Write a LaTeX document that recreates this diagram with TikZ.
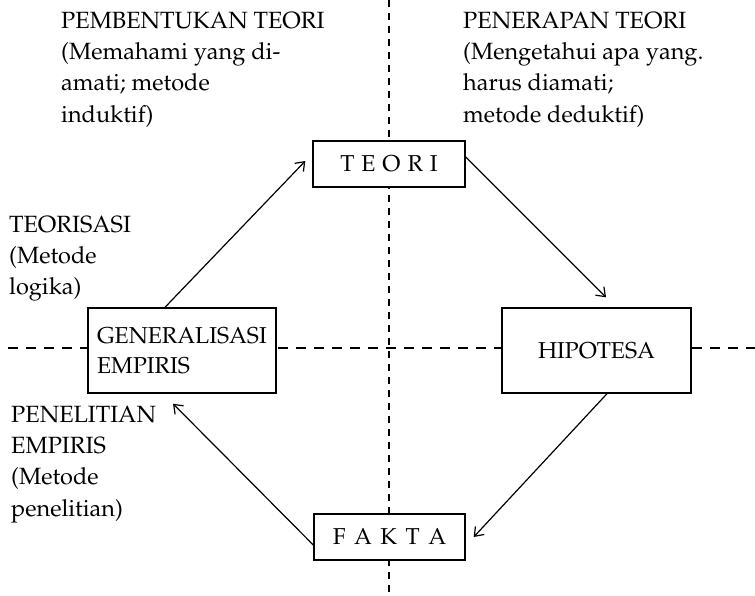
\documentclass[tikz,border=0pt]{standalone}
\usepackage[T1]{fontenc}
\usepackage{mathpazo}
\usetikzlibrary{arrows.meta}
\begin{document}
\begin{tikzpicture}[x=1pt,y=-1pt,
  box/.style={draw=black,line width=1.4pt,fill=white,inner sep=0pt,align=left,font=\fontsize{23}{30}\selectfont},
  lbl/.style={anchor=north west,inner sep=0pt,align=left,font=\fontsize{23.5}{31.3}\selectfont},
  arr/.style={line width=1.2pt,-{Straight Barb[length=8pt,width=12pt,line width=1.2pt]}},
  hdash/.style={line width=1.1pt,dash pattern=on 10pt off 8pt},
  vdash/.style={line width=1.1pt,dash pattern=on 7pt off 6pt}]
\useasboundingbox (0,0) rectangle (755,596);
% dashed axes
\coordinate (hl) at (8,348);
\coordinate (hr) at (755,348);
\coordinate (vt) at (389,0);
\coordinate (vb) at (389,596);
\draw[hdash] (hl) -- (hr);
\draw[vdash] (vt) -- (vb);
% boxes
\node[box,minimum width=152pt,minimum height=46pt] (teori) at (389,164) {T\hspace{7pt}E\hspace{7pt}O\hspace{7pt}R\hspace{7pt}I};
\node[box,minimum width=188pt,minimum height=85pt] (gen) at (182,350.5) {GENERALISASI\\EMPIRIS};
\node[box,minimum width=189pt,minimum height=85pt] (hipo) at (596.5,350.5) {HIPOTESA};
\node[box,minimum width=151pt,minimum height=46pt] (fakta) at (389.5,537) {F\hspace{8.5pt}A\hspace{8.5pt}K\hspace{8.5pt}T\hspace{8.5pt}A};
% arrows
\draw[arr] ([xshift=-17pt]gen.north) -- ([xshift=-7pt,yshift=3pt]teori.west);
\draw[arr] ([yshift=7pt]teori.east) -- ([xshift=9.5pt,yshift=10pt]hipo.north);
\draw[arr] ([xshift=10.5pt]hipo.south) -- ([xshift=8pt]fakta.east);
\draw[arr] ([yshift=-8pt]fakta.west) -- ([xshift=-9pt,yshift=-10pt]gen.south);
% labels
\node[lbl] (pt) at (61,11.8) {PEMBENTUKAN TEORI\\(Memahami yang di-\\amati; metode\\induktif)};
\node[lbl] (pp) at (463,11.8) {PENERAPAN TEORI\\(Mengetahui apa yang.\\harus diamati;\\metode deduktif)};
\node[lbl] (ts) at (9,215.8) {TEORISASI\\(Metode\\logika)};
\node[lbl] (pe) at (11,405.8) {PENELITIAN\\EMPIRIS\\(Metode\\penelitian)};
\end{tikzpicture}
\end{document}
